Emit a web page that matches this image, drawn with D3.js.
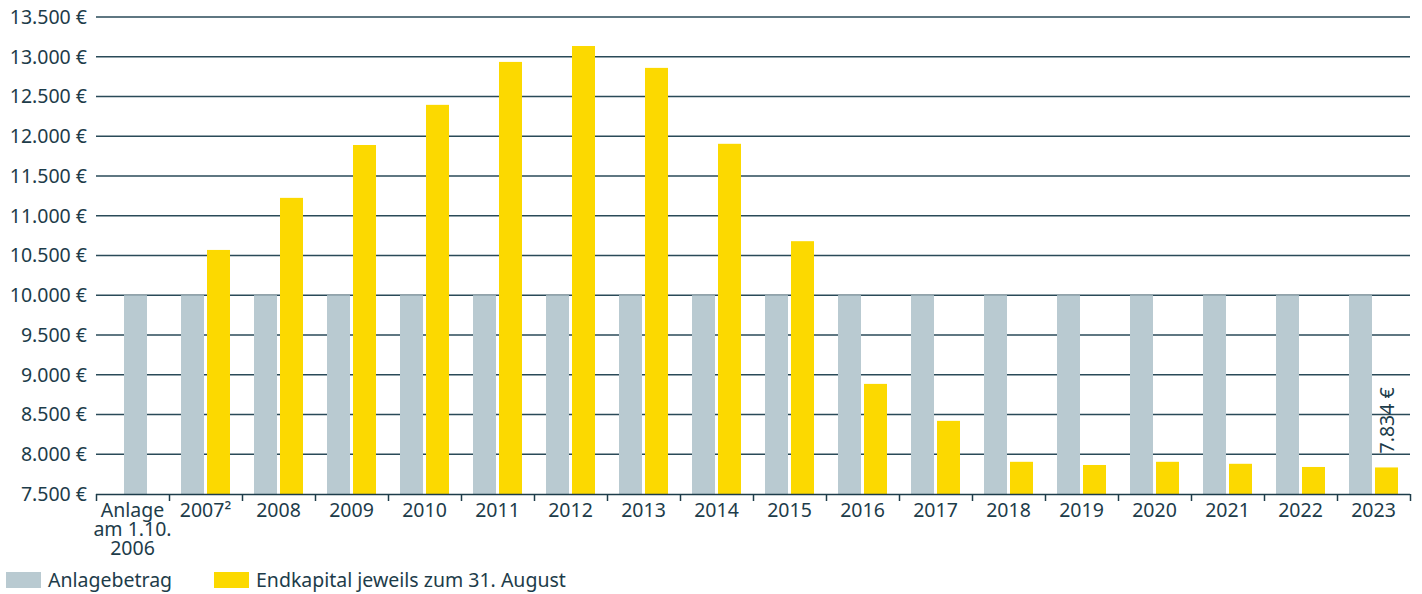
<!DOCTYPE html>
<html>
<head>
<meta charset="utf-8">
<script src="https://cdn.jsdelivr.net/npm/d3@7"></script>
<style>
  body { margin: 0; background: #fff; }
  svg text { font-family: "Noto Sans", "Open Sans", sans-serif; fill: #1d3c4a; }
</style>
</head>
<body>
<div id="chart"></div>
<script>
const categories = ["Anlage|am 1.10.|2006", "2007²", "2008", "2009", "2010", "2011", "2012", "2013", "2014",
    "2015", "2016", "2017", "2018", "2019", "2020", "2021", "2022", "2023"];
const anlagebetrag = [10000, 10000, 10000, 10000, 10000, 10000, 10000, 10000, 10000,
    10000, 10000, 10000, 10000, 10000, 10000, 10000, 10000, 10000];
const endkapital = [null, 10570, 11225, 11890, 12395, 12935, 13135, 12860, 11905,
    10680, 8885, 8420, 7905, 7865, 7905, 7880, 7840, 7834];
const yTicks = [7500, 8000, 8500, 9000, 9500, 10000, 10500, 11000, 11500, 12000, 12500, 13000, 13500];
const legendLabels = ["Anlagebetrag", "Endkapital jeweils zum 31. August"];
const lastLabel = "7.834 €";

const W = 1422, H = 594;
const grey = "#b9cad1", yellow = "#fcd900", ink = "#1d3c4a";
const fs = "19.5px";

const svg = d3.select("#chart").append("svg")
    .attr("width", W).attr("height", H);

const x = d3.scaleBand().domain(categories).range([96, 1410]).padding(0);
const y = d3.scaleLinear().domain([7500, 13500]).range([494, 17]);

const fmt = v => d3.format(",")(v).replace(/,/g, ".") + " €";

// gridlines
svg.append("g").selectAll("line")
    .data(yTicks.slice(1))
    .join("line")
    .attr("x1", 96).attr("x2", 1410)
    .attr("y1", d => y(d)).attr("y2", d => y(d))
    .attr("stroke", "#2a4a58").attr("stroke-width", 1.3);

// y labels
svg.append("g").selectAll("text")
    .data(yTicks)
    .join("text")
    .attr("x", 87).attr("y", d => y(d))
    .attr("dy", "0.35em")
    .attr("text-anchor", "end")
    .style("font-size", fs)
    .text(fmt);

const barW = 23, gap = 3;

// bars
categories.forEach((c, i) => {
    const cx = x(c) + x.bandwidth() / 2;
    if (endkapital[i] == null) {
        svg.append("rect")
            .attr("x", cx - barW / 2 + 3).attr("y", y(anlagebetrag[i]))
            .attr("width", barW).attr("height", y(7500) - y(anlagebetrag[i]))
            .attr("fill", grey);
        return;
    }
    svg.append("rect")
        .attr("x", cx - gap / 2 - barW).attr("y", y(anlagebetrag[i]))
        .attr("width", barW).attr("height", y(7500) - y(anlagebetrag[i]))
        .attr("fill", grey);
    svg.append("rect")
        .attr("x", cx + gap / 2).attr("y", y(endkapital[i]))
        .attr("width", barW).attr("height", y(7500) - y(endkapital[i]))
        .attr("fill", yellow);
});

// value label on last bar
const lastCat = categories[categories.length - 1];
const lx = x(lastCat) + x.bandwidth() / 2 + gap / 2 + barW / 2;
const ly = y(endkapital[endkapital.length - 1]) - 14;
svg.append("text")
    .attr("transform", `translate(${lx + 7},${ly}) rotate(-90)`)
    .attr("text-anchor", "start")
    .style("font-size", fs)
    .text(lastLabel);

// x axis
const axisG = svg.append("g");
axisG.append("line")
    .attr("x1", 96).attr("x2", 1410)
    .attr("y1", 494.5).attr("y2", 494.5)
    .attr("stroke", ink).attr("stroke-width", 1.5);
const tickXs = categories.map(c => x(c)).concat([x(lastCat) + x.bandwidth()]);
axisG.selectAll("line.tick")
    .data(tickXs)
    .join("line")
    .attr("class", "tick")
    .attr("x1", d => Math.round(d) + 0.5).attr("x2", d => Math.round(d) + 0.5)
    .attr("y1", 494).attr("y2", 501)
    .attr("stroke", ink).attr("stroke-width", 1.5);

categories.forEach(c => {
    const t = axisG.append("text")
        .attr("x", x(c) + x.bandwidth() / 2)
        .attr("y", 517)
        .attr("text-anchor", "middle")
        .style("font-size", fs);
    c.split("|").forEach((line, k) => {
        t.append("tspan")
            .attr("x", x(c) + x.bandwidth() / 2)
            .attr("dy", k === 0 ? 0 : 19)
            .text(line);
    });
});

// legend
const legend = svg.append("g");
[[6, grey], [214, yellow]].forEach(([lxp, col], i) => {
    legend.append("rect")
        .attr("x", lxp).attr("y", 572)
        .attr("width", 35).attr("height", 16)
        .attr("fill", col);
    legend.append("text")
        .attr("x", lxp + 42).attr("y", 587)
        .style("font-size", fs)
        .text(legendLabels[i]);
});
</script>
</body>
</html>
